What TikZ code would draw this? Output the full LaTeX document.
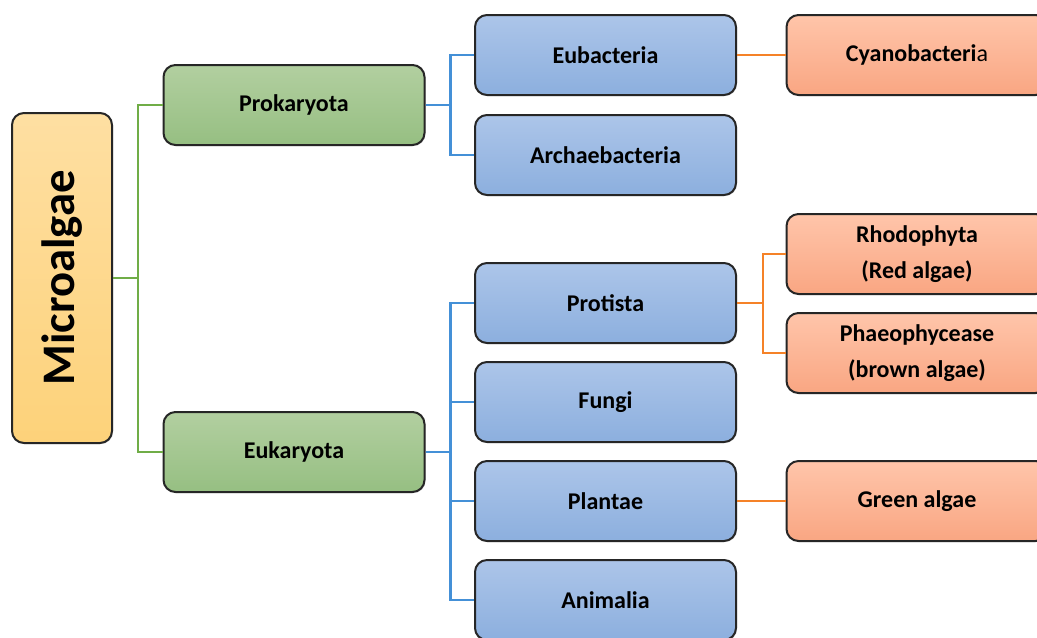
\documentclass[tikz,border=0pt]{standalone}
\usepackage{fontspec}
\setmainfont{Carlito}
\usetikzlibrary{shadows}

\definecolor{greentop}{RGB}{178,207,160}
\definecolor{greenbot}{RGB}{150,191,130}
\definecolor{bluetop}{RGB}{172,197,233}
\definecolor{bluebot}{RGB}{140,175,222}
\definecolor{orangetop}{RGB}{255,197,170}
\definecolor{orangebot}{RGB}{249,166,130}
\definecolor{yellowtop}{RGB}{254,223,162}
\definecolor{yellowbot}{RGB}{253,210,122}
\definecolor{greenline}{RGB}{112,173,71}
\definecolor{blueline}{RGB}{68,144,215}
\definecolor{orangeline}{RGB}{245,130,40}

\begin{document}
\begin{tikzpicture}[x=0.75pt,y=-0.75pt]

% Define styles
\tikzstyle{taxbox}=[draw=black!85, line width=1.5pt, rounded corners=9pt, align=center,
  minimum width=195.75pt, minimum height=60pt, font=\bfseries\fontsize{18}{27}\selectfont,
  drop shadow={shadow xshift=0.8pt, shadow yshift=-0.8pt, opacity=0.25}]
\tikzstyle{rootbox}=[taxbox, top color=yellowtop, bottom color=yellowbot, rotate=90,
  minimum width=247.5pt, minimum height=75pt, font=\bfseries\fontsize{35}{40}\selectfont]
\tikzstyle{domainbox}=[taxbox, top color=greentop, bottom color=greenbot]
\tikzstyle{kingdombox}=[taxbox, top color=bluetop, bottom color=bluebot]
\tikzstyle{algaebox}=[taxbox, top color=orangetop, bottom color=orangebot]
\tikzstyle{gline}=[draw=greenline, line width=1.8pt]
\tikzstyle{bline}=[draw=blueline, line width=1.8pt]
\tikzstyle{oline}=[draw=orangeline, line width=1.8pt]

\useasboundingbox (0,0) rectangle (1037,637);

% Root
\node[rootbox] (micro) at (62,278) {Microalgae};

% Domains
\node[domainbox] (pro) at (294,105) {Prokaryota};
\node[domainbox] (euk) at (294,452) {Eukaryota};

% Kingdoms
\foreach \name/\y/\text in {eub/55/Eubacteria, arc/155/Archaebacteria,
  prot/303/Protista, fun/402/Fungi, pla/501/Plantae, ani/600/Animalia}
{
  \node[kingdombox] (\name) at (605.5,\y) {\text};
}

% Algae groups
\node[algaebox] (cya) at (917,55) {Cyanobacteri{\mdseries a}};
\node[algaebox] (rho) at (917,254) {Rhodophyta\\(Red algae)};
\node[algaebox] (pha) at (917,353) {Phaeophycease\\(brown algae)};
\node[algaebox] (gre) at (917,501) {Green algae};

% Connectors
\foreach \b in {pro, euk} {
  \draw[gline] (micro.south) -- +(25,0) |- (\b.west);
}
\foreach \b in {eub, arc} {
  \draw[bline] (pro.east) -- +(25,0) |- (\b.west);
}
\foreach \b in {prot, fun, pla, ani} {
  \draw[bline] (euk.east) -- +(25,0) |- (\b.west);
}
\draw[oline] (eub.east) -- (cya.west);
\foreach \b in {rho, pha} {
  \draw[oline] (prot.east) -- +(26,0) |- (\b.west);
}
\draw[oline] (pla.east) -- (gre.west);

\end{tikzpicture}
\end{document}
